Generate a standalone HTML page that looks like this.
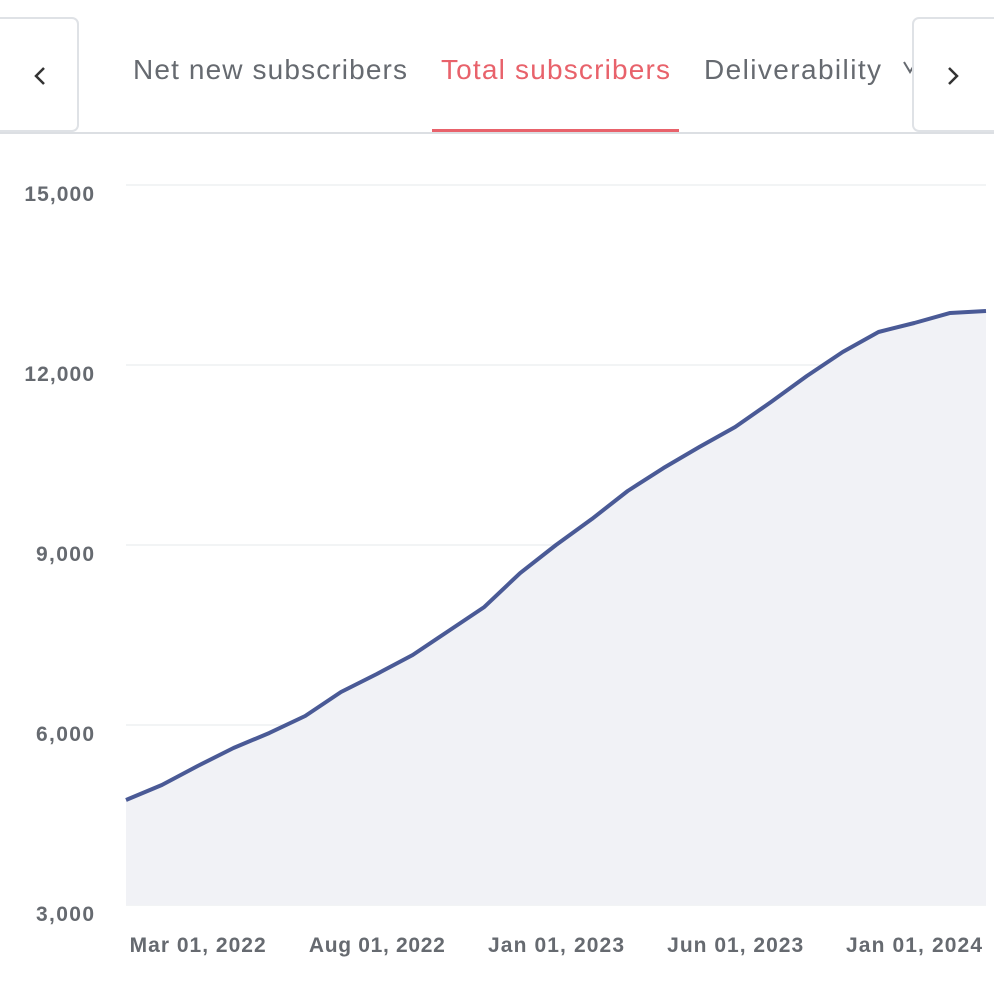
<!DOCTYPE html>
<html><head><meta charset="utf-8"><style>
html,body{margin:0;padding:0;background:#fff;width:994px;height:984px;overflow:hidden;font-family:"Liberation Sans",sans-serif}
</style></head><body>
<svg width="994" height="984" xmlns="http://www.w3.org/2000/svg" font-family="Liberation Sans, sans-serif">
<g>
<line x1="0" y1="133" x2="994" y2="133" stroke="#dcdfe3" stroke-width="2"/>
<text x="133" y="79" font-size="28" fill="#666a70" textLength="274">Net new subscribers</text>
<text x="441" y="79" font-size="28" fill="#e8626b" textLength="229">Total subscribers</text>
<rect x="432" y="129" width="247" height="3" fill="#e8626b"/>
<text x="704" y="79" font-size="28" fill="#666a70" textLength="177">Deliverability</text>
<path d="M904 62 L910 72 L916 62" fill="none" stroke="#666a70" stroke-width="2"/>
<rect x="-6" y="18" width="84" height="113" rx="6" fill="#fff" stroke="#dfe2e6" stroke-width="2"/>
<path d="M44 68 L36 76 L44 84" fill="none" stroke="#333" stroke-width="2.5"/>
<rect x="913" y="18" width="90" height="113" rx="6" fill="#fff" stroke="#dfe2e6" stroke-width="2"/>
<path d="M949 68 L957 76 L949 84" fill="none" stroke="#333" stroke-width="2.5"/>
</g>
<g id="grid"></g>
<g id="yaxis"></g>
<g id="xaxis"></g>
<g id="plot"></g>
</svg>
<script>
const values=[4750,5000,5317,5617,5867,6150,6550,6850,7167,7567,7967,8533,9000,9433,9900,10283,10633,10967,11383,11817,12217,12550,12700,12867,12900];
const yTicks=[3000,6000,9000,12000,15000];
const yTickLabels=["3,000","6,000","9,000","12,000","15,000"];
const xTickIdx=[2,7,12,17,24];
const xTickLabels=["Mar 01, 2022","Aug 01, 2022","Jan 01, 2023","Jun 01, 2023","Jan 01, 2024"];
const NS="http://www.w3.org/2000/svg";
const x0=126,x1=986,yMin=3000,yMax=15000,py0=905,py1=185;
const X=i=>x0+(x1-x0)*i/(values.length-1);
const Y=v=>py0-(v-yMin)/(yMax-yMin)*(py0-py1);
function mk(t,a,p){const e=document.createElementNS(NS,t);for(const k in a)e.setAttribute(k,a[k]);p.appendChild(e);return e;}
const grid=document.getElementById('grid'),ya=document.getElementById('yaxis'),xa=document.getElementById('xaxis'),plot=document.getElementById('plot');
yTicks.forEach((v,i)=>{
 const l=mk('line',{x1:126,x2:986,y1:Y(v),y2:Y(v),stroke:'#eef0f2','stroke-width':1.5},grid);
 
 
 const t=mk('text',{x:94,y:Y(v)+16,'text-anchor':'end','font-size':21,fill:'#666a70','font-weight':'600',textLength:yTickLabels[i].length*11.6},ya);
 t.textContent=yTickLabels[i];
 
 
});
xTickIdx.forEach((idx,i)=>{
 const last=i===xTickIdx.length-1;
 const t=mk('text',{x:last?X(idx)-4:X(idx),y:952,'text-anchor':last?'end':'middle','font-size':21,fill:'#666a70','font-weight':'600',textLength:136},xa);
 t.textContent=xTickLabels[i];
 
 
});
let d=values.map((v,i)=>(i?'L':'M')+X(i)+' '+Y(v)).join(' ');
const area=mk('path',{d:d+` L${X(values.length-1)} ${py0} L${X(0)} ${py0} Z`,fill:'#f1f2f6'},plot);


const line=mk('path',{d:d,fill:'none',stroke:'#4a5a96','stroke-width':4,'stroke-linejoin':'round'},plot);


</script>
</body></html>
